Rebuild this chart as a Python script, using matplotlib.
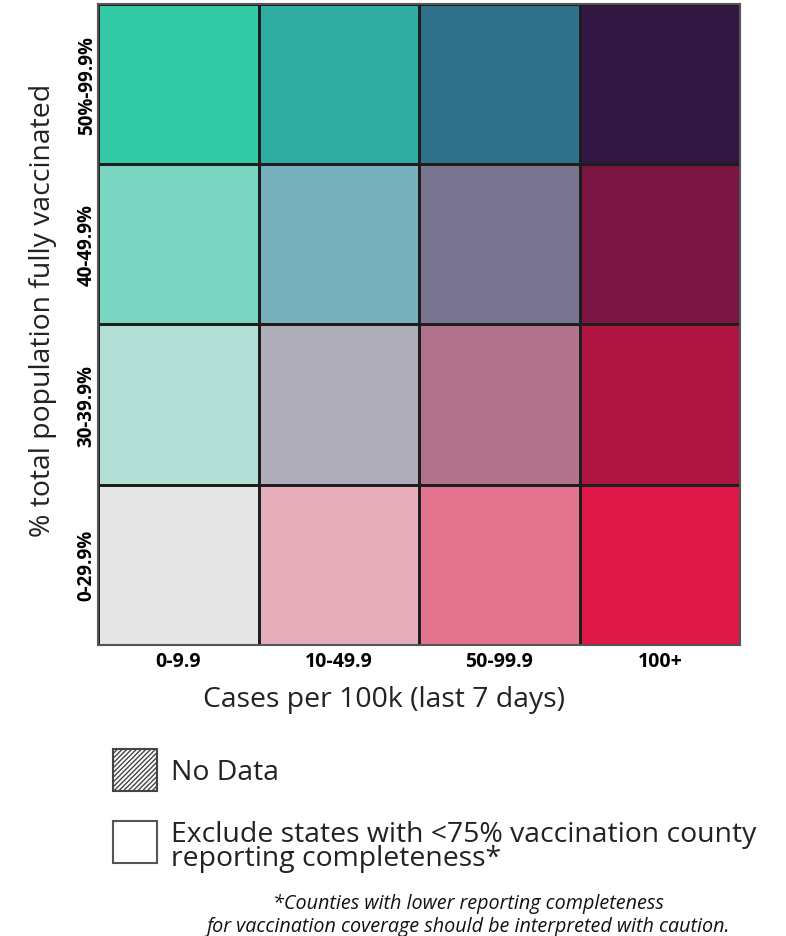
import matplotlib.pyplot as plt
import matplotlib.colors as mcolors
from matplotlib.patches import Rectangle
import numpy as np

plt.rcParams['font.family'] = ['Open Sans', 'DejaVu Sans']

case_bins = ['0-9.9', '10-49.9', '50-99.9', '100+']
vacc_bins = ['0-29.9%', '30-39.9%', '40-49.9%', '50%-99.9%']

# bivariate colours, rows = vaccination bins (bottom to top), cols = case bins
cell_colors = [
    ['#E5E5E5', '#E5AEBA', '#E47390', '#E01847'],
    ['#B4DFD6', '#B0ADBA', '#B3728C', '#B01542'],
    ['#7AD6C0', '#78AFBD', '#79748F', '#7A1442'],
    ['#32CBA5', '#2FADA2', '#2E7189', '#311742'],
]

flat = [c for row in cell_colors for c in row]
cmap = mcolors.ListedColormap(flat)
idx = np.arange(len(flat)).reshape(4, 4)

fig = plt.figure(figsize=(7.86, 9.37), dpi=100)
ax = fig.add_axes([0.1247, 0.3106, 0.817, 0.6841])
ax.pcolormesh(idx, cmap=cmap, vmin=-0.5, vmax=len(flat) - 0.5,
              edgecolors='#1e1e1e', linewidth=2)
ax.set_xlim(0, 4)
ax.set_ylim(0, 4)
for s in ax.spines.values():
    s.set_color('#555555')
    s.set_linewidth(1.5)

ax.set_xticks(np.arange(4) + 0.5)
ax.set_xticklabels(case_bins, fontsize=14, fontweight='bold')
ax.set_yticks(np.arange(4) + 0.5)
ax.set_yticklabels(vacc_bins, fontsize=13.5, fontweight='bold', rotation=90, va='center')
ax.tick_params(axis='x', length=0, pad=4)
ax.tick_params(axis='y', length=0, pad=1)
ax.set_xlabel('Cases per 100k (last 7 days)', fontsize=20.4, color='#222222')
ax.set_ylabel('% total population fully vaccinated', fontsize=20.4, color='#222222')
ax.xaxis.label.set_verticalalignment('center')
ax.yaxis.label.set_verticalalignment('center')
ax.xaxis.set_label_coords(0.4455, -0.084)
ax.yaxis.set_label_coords(-0.086, 0.524)

# legend
W, H = 786, 937
def box(x0, y0, x1, y1, **kw):
    fig.patches.append(Rectangle((x0 / W, 1 - y1 / H), (x1 - x0) / W, (y1 - y0) / H,
                                 transform=fig.transFigure, **kw))

plt.rcParams['hatch.color'] = '#444444'
box(113, 750, 157, 792, facecolor='white', edgecolor='#444444', linewidth=1.5, hatch='///////')
box(113, 822, 157, 864, facecolor='white', edgecolor='#555555', linewidth=1.5)
fig.text(171 / W, 1 - 773 / H, 'No Data', fontsize=20.4, va='center', color='#222222')
fig.text(171 / W, 1 - 847 / H, 'Exclude states with <75% vaccination county\nreporting completeness*',
         fontsize=20.4, va='center', linespacing=0.85, color='#222222')
fig.text(468 / W, 1 - 916 / H,
         '*Counties with lower reporting completeness\nfor vaccination coverage should be interpreted with caution.',
         fontsize=14.2, style='italic', ha='center', va='center', linespacing=1.2, color='#111111')

fig.savefig('out.png', dpi=100)
